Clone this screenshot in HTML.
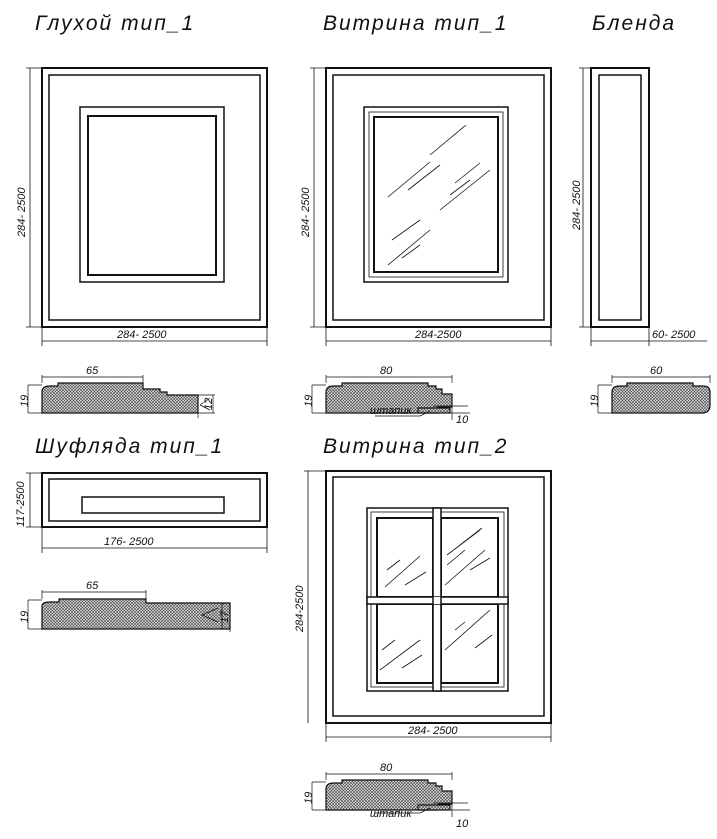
<!DOCTYPE html>
<html><head><meta charset="utf-8"><style>
html,body{margin:0;padding:0;background:#fff;}
svg{display:block}
text{font-family:"Liberation Sans","DejaVu Sans",sans-serif;font-style:italic;fill:#111}
.t{font-size:21px;letter-spacing:2px}
.d{font-size:11px}
</style></head><body>
<svg width="717" height="839" viewBox="0 0 717 839" xmlns="http://www.w3.org/2000/svg">
<defs>
<pattern id="h" width="3" height="3" patternUnits="userSpaceOnUse">
<rect width="3" height="3" fill="#ddd"/><path d="M0 0L3 3M3 0L0 3" stroke="#444" stroke-width="0.6"/>
</pattern>
</defs>
<g fill="none" stroke="#111">
<!-- Глухой -->
<rect x="42" y="68" width="225" height="259" stroke-width="2"/>
<rect x="49" y="75" width="211" height="245" stroke-width="1.5"/>
<rect x="80" y="107" width="144" height="175" stroke-width="1.5"/>
<rect x="88" y="116" width="128" height="159" stroke-width="2"/>
<g stroke-width="0.8"><path d="M30 68V327M26 68H42M26 327H42M42 327V346M267 327V346M42 341H267"/></g>
<!-- Витрина 1 -->
<rect x="326" y="68" width="225" height="259" stroke-width="2"/>
<rect x="333" y="75" width="211" height="245" stroke-width="1.5"/>
<rect x="364" y="107" width="144" height="175" stroke-width="1.5"/>
<rect x="369" y="112" width="134" height="165" stroke-width="0.8"/>
<rect x="374" y="117" width="124" height="155" stroke-width="2"/>
<g stroke-width="0.8"><path d="M430 155L466 125M388 197L430 162M408 190L440 165M455 183L480 163M440 210L490 170M450 195L470 180M392 240L420 220M388 265L430 230M402 258L420 245"/>
<path d="M314 68V327M310 68H326M310 327H326M326 327V346M551 327V346M326 341H551"/></g>
<!-- Бленда -->
<rect x="591" y="68" width="58" height="259" stroke-width="2"/>
<rect x="599" y="75" width="42" height="245" stroke-width="1.5"/>
<g stroke-width="0.8"><path d="M583 68V327M579 68H591M579 327H591M591 327V346M649 327V346M591 341H707"/></g>
<!-- Шуфляда -->
<rect x="42" y="473" width="225" height="54" stroke-width="2"/>
<rect x="49" y="479" width="211" height="42" stroke-width="1.5"/>
<rect x="82" y="497" width="142" height="16" stroke-width="1.5"/>
<g stroke-width="0.8"><path d="M30 473V527M26 473H42M26 527H42M42 527V553M267 527V553M42 548H267"/></g>
<!-- Витрина 2 -->
<rect x="326" y="471" width="225" height="252" stroke-width="2"/>
<rect x="333" y="477" width="211" height="239" stroke-width="1.5"/>
<rect x="367" y="508" width="141" height="183" stroke-width="1.5"/>
<rect x="371" y="512" width="133" height="175" stroke-width="0.8"/>
<rect x="377" y="518" width="56" height="79" stroke-width="2"/>
<rect x="441" y="518" width="57" height="79" stroke-width="2"/>
<rect x="377" y="604" width="56" height="79" stroke-width="2"/>
<rect x="441" y="604" width="57" height="79" stroke-width="2"/>
<rect x="433" y="508" width="8" height="183" fill="#fff" stroke-width="1.5"/>
<rect x="367" y="597" width="141" height="7" fill="#fff" stroke-width="1.5"/>
<rect x="433" y="597" width="8" height="7" fill="#fff" stroke="none"/>
<path d="M433 597V604M441 597V604" stroke-width="1.5"/>
<g stroke-width="0.8"><path d="M385 587L420 556M387 570L400 560M405 585L426 572M445 585L485 550M447 565L465 550M470 570L490 558M460 545L482 528M447 555L480 530M445 650L490 610M455 630L465 622M475 648L492 635M380 670L420 640M382 650L395 640M402 668L422 655"/>
<path d="M308 471V723M304 471H326M326 723V742M551 723V742M326 737H551"/></g>
</g>
<!-- profiles -->
<g stroke="#111" stroke-width="1.2">
<path d="M42 413V392Q42 386 50 386H58V383H143V389H160V392H167V395H198V413Z" fill="url(#h)"/>
<path d="M326 413V392Q326 386 334 386H342V383H428V386H436V389H442V394H452V407H438V413Z" fill="url(#h)"/>
<rect x="418" y="408" width="32" height="5" fill="url(#h)"/>
<path d="M612 413V392Q612 386 620 386H627V383H693V386H703Q710 386 710 392V405Q710 413 702 413Z" fill="url(#h)"/>
<path d="M42 629V606Q42 602 50 602H59V599H146V603H230V629Z" fill="url(#h)"/>
<path d="M326 810V789Q326 783 334 783H342V780H428V783H436V786H442V791H452V804H438V810Z" fill="url(#h)"/>
<rect x="418" y="805" width="32" height="5" fill="url(#h)"/>
</g>
<g fill="none" stroke="#111" stroke-width="0.7">
<path d="M42 383V375M143 383V375M42 377H143M28 385V413M28 385H42M28 413H42M198 395V418M213 395V413M198 395H215M198 413H215M200 405L210 398M200 405L210 410"/>
<path d="M326 383V375M452 383V375M326 377H452M312 385V413M312 385H326M312 413H326M433 406H468M433 413H470M452 402V420M375 416H420L430 411"/>
<path d="M612 383V375M710 383V375M612 377H710M598 385V413M598 385H612M598 413H612"/>
<path d="M42 599V590M146 599V590M42 592H146M28 600V629M28 600H42M28 629H42M230 603V632M222 603V629M202 615L218 608M202 615L218 622"/>
<path d="M326 780V772M452 780V772M326 774H452M312 782V810M312 782H326M312 810H326M433 803H468M433 810H470M452 799V817M375 813H420L430 808"/>
</g>
<text x="35" y="30" class="t">Глухой тип_1</text>
<text x="323" y="30" class="t">Витрина тип_1</text>
<text x="592" y="30" class="t">Бленда</text>
<text x="35" y="453" class="t">Шуфляда тип_1</text>
<text x="323" y="453" class="t">Витрина тип_2</text>
<g class="d">
<text x="117" y="338" class="d">284- 2500</text>
<text x="415" y="338" class="d">284-2500</text>
<text x="652" y="338" class="d">60- 2500</text>
<text x="104" y="545" class="d">176- 2500</text>
<text x="408" y="734" class="d">284- 2500</text>
<text transform="translate(25 237) rotate(-90)" class="d">284- 2500</text>
<text transform="translate(309 237) rotate(-90)" class="d">284- 2500</text>
<text transform="translate(580 230) rotate(-90)" class="d">284- 2500</text>
<text transform="translate(24 527) rotate(-90)" class="d">117-2500</text>
<text transform="translate(303 632) rotate(-90)" class="d">284-2500</text>
<text x="86" y="374" class="d">65</text>
<text x="380" y="374" class="d">80</text>
<text x="650" y="374" class="d">60</text>
<text x="86" y="589" class="d">65</text>
<text x="380" y="771" class="d">80</text>
<text transform="translate(28 407) rotate(-90)" class="d">19</text>
<text transform="translate(312 407) rotate(-90)" class="d">19</text>
<text transform="translate(598 407) rotate(-90)" class="d">19</text>
<text transform="translate(28 623) rotate(-90)" class="d">19</text>
<text transform="translate(312 804) rotate(-90)" class="d">19</text>
<text transform="translate(212 410) rotate(-90)" class="d">12</text>
<text transform="translate(228 623) rotate(-90)" class="d">17</text>
<text x="456" y="423" class="d">10</text>
<text x="456" y="827" class="d">10</text>
<text x="370" y="414" class="d">штапик</text>
<text x="370" y="817" class="d">штапик</text>
</g>
</svg>
</body></html>
